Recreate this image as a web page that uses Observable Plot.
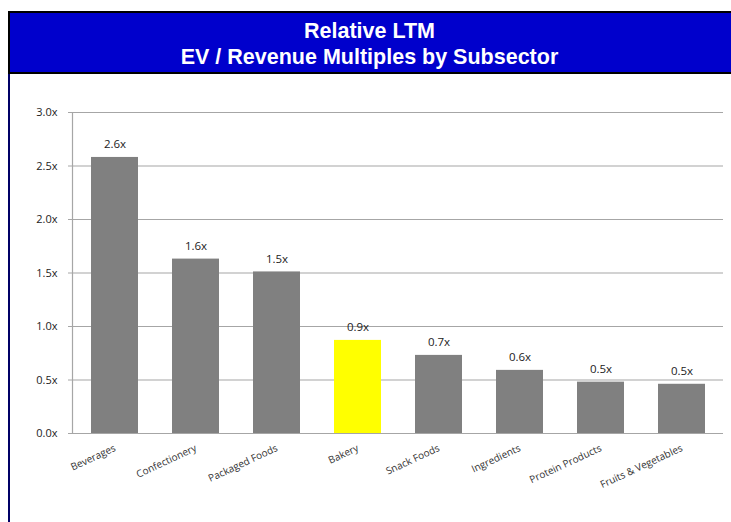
<!DOCTYPE html>
<html>
<head>
<meta charset="utf-8">
<script src="https://cdn.jsdelivr.net/npm/d3@7"></script>
<script src="https://cdn.jsdelivr.net/npm/@observablehq/plot@0.6"></script>
<style>
  html, body { margin: 0; padding: 0; background: #fff; }
  #wrap { position: relative; width: 731px; height: 522px; overflow: hidden; }
  #leftline { position: absolute; left: 8px; top: 11px; width: 2px; height: 520px; background: #000066; }
  #title {
    position: absolute; left: 8px; top: 11px; width: 740px; height: 59px;
    background: #0000CC; border: 2px solid #000; box-sizing: content-box;
    color: #fff; font-family: "Liberation Sans", Arial, sans-serif; font-weight: bold;
    font-size: 21.5px; line-height: 26px; text-align: center;
    display: flex; flex-direction: column; justify-content: center;
  }
  #title span { display: block; width: 731px; margin-left: -6px; position: relative; top: 1px; }
  #chart { position: absolute; left: 0; top: 75px; }
</style>
</head>
<body>
<div id="wrap">
  <div id="leftline"></div>
  <div id="title"><span>Relative LTM</span><span>EV / Revenue Multiples by Subsector</span></div>
  <div id="chart"></div>
</div>
<script>
const categories = ["Beverages", "Confectionery", "Packaged Foods", "Bakery", "Snack Foods", "Ingredients", "Protein Products", "Fruits & Vegetables"];
const values = [2.58, 1.63, 1.51, 0.87, 0.73, 0.59, 0.48, 0.46];
const highlight = "Bakery";
const yTicks = [0, 0.5, 1.0, 1.5, 2.0, 2.5, 3.0];

const data = categories.map((c, i) => ({category: c, value: values[i]}));

const plot = Plot.plot({
  width: 731,
  height: 447,
  marginTop: 37,
  marginBottom: 89,
  marginLeft: 72,
  marginRight: 8,
  style: {fontFamily: "'Open Sans', Lato, sans-serif", fontSize: "10px", color: "#222", background: "transparent"},
  x: {domain: categories, paddingInner: 0.42, paddingOuter: 0.21, label: null},
  y: {domain: [0, 3], label: null},
  marks: [
    Plot.ruleY(yTicks, {stroke: "#a6a6a6", strokeWidth: 1.2}),
    Plot.frame({anchor: "left", stroke: "#a6a6a6", strokeWidth: 1.2}),
    Plot.barY(data, {x: "category", y: "value", fill: d => d.category === highlight ? "#FFFF00" : "#808080"}),
    Plot.text(data, {x: "category", y: "value", text: d => d.value.toFixed(1) + "x", dy: -13, fontSize: 11.5, fill: "#222"}),
    Plot.axisY({ticks: yTicks, tickFormat: d => d.toFixed(1) + "x", tickSize: 4, tickPadding: 11, stroke: "#a6a6a6", fontSize: 11}),
    Plot.axisX({tickSize: 0, tickRotate: -25, tickPadding: 14, fontSize: 10, textAnchor: "end", dx: 0, fill: "#333"}),
  ]
});
document.getElementById("chart").appendChild(plot);
</script>
</body>
</html>
